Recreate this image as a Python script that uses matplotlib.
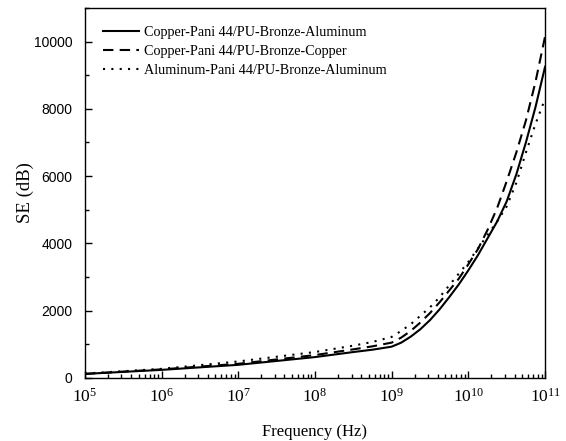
import numpy as np
import matplotlib
matplotlib.use("Agg")
import matplotlib.pyplot as plt
from matplotlib.ticker import LogLocator, MultipleLocator, FixedLocator

# ------------------------------
# Data
# ------------------------------
freq_exp = [5, 6, 7, 8, 8.5, 8.75, 9, 9.125, 9.25, 9.375, 9.5, 9.625, 9.75, 9.875,
            10, 10.125, 10.25, 10.375, 10.5, 10.625, 10.75, 10.875, 11]
se_cu_al = [120, 240, 390, 620, 770, 840, 930, 1050, 1230, 1450, 1720, 2040, 2400, 2780,
            3200, 3650, 4150, 4650, 5250, 6050, 7000, 8050, 9250]
se_cu_cu = [120, 255, 420, 680, 850, 940, 1050, 1200, 1400, 1650, 1930, 2250, 2600, 2950,
            3380, 3830, 4400, 5050, 5850, 6700, 7650, 8800, 10150]
se_al_al = [130, 270, 490, 770, 960, 1070, 1220, 1400, 1600, 1850, 2100, 2400, 2750, 3100,
            3450, 3850, 4250, 4650, 5100, 5800, 6700, 7550, 8300]

labels = ["Copper-Pani 44/PU-Bronze-Aluminum",
          "Copper-Pani 44/PU-Bronze-Copper",
          "Aluminum-Pani 44/PU-Bronze-Aluminum"]

freq = 10.0 ** np.array(freq_exp)

# ------------------------------
# Style
# ------------------------------
plt.rcParams['font.family'] = 'Liberation Serif'
plt.rcParams['mathtext.fontset'] = 'custom'
plt.rcParams['mathtext.rm'] = 'Liberation Serif'
plt.rcParams['mathtext.it'] = 'Liberation Serif:italic'

fig = plt.figure(figsize=(5.66, 4.41), dpi=100)
ax = fig.add_axes([0.150, 0.143, 0.813, 0.839])

ax.plot(freq, se_cu_al, color='black', lw=1.5, ls='-', label=labels[0])
ax.plot(freq, se_cu_cu, color='black', lw=1.5, ls=(0, (5, 3)), label=labels[1])
ax.plot(freq, se_al_al, color='black', lw=1.5, ls=(0, (1, 3)), label=labels[2])

ax.set_xscale('log')
ax.set_xlim(1e5, 1e11)
ax.set_ylim(0, 11000)

ax.xaxis.set_major_locator(FixedLocator(10.0 ** np.arange(5, 12)))
ax.xaxis.set_minor_locator(LogLocator(base=10, subs=np.arange(2, 10), numticks=100))
ax.yaxis.set_major_locator(MultipleLocator(2000))
ax.yaxis.set_minor_locator(MultipleLocator(1000))

ax.tick_params(which='both', direction='in', top=False, right=False)
ax.tick_params(which='major', length=5, width=1)
ax.tick_params(which='minor', length=3, width=1)
ax.tick_params(axis='x', labelsize=12.5, pad=7)
ax.tick_params(axis='y', pad=9)
for t in ax.get_yticklabels():
    t.set_family('Liberation Sans')
    t.set_fontsize(10)

for s in ax.spines.values():
    s.set_linewidth(1)

ax.set_xlabel('Frequency (Hz)', fontsize=12, labelpad=13)
ax.set_ylabel('SE (dB)', fontsize=13.5, labelpad=0)

ax.legend(loc='upper left', frameon=False, fontsize=10.2, handlelength=2.6,
          handletextpad=0.3, labelspacing=0.45, borderaxespad=0.8,
          borderpad=0.45)

fig.savefig('out.png', dpi=100)
